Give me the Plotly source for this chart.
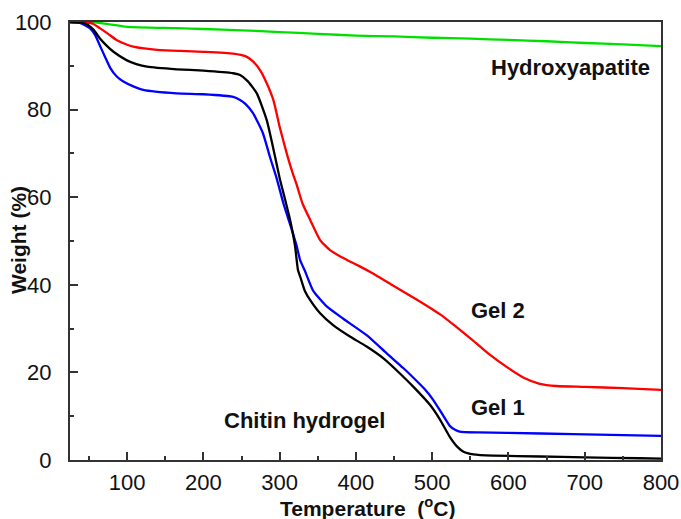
import plotly.graph_objects as go

# Hydroxyapatite (green)
hap_t = [25, 55, 75, 100, 165, 200, 250, 300, 350, 400, 450, 500, 550, 600, 650, 700, 750, 800]
hap_w = [100, 100, 99.5, 98.9, 98.6, 98.4, 98.1, 97.7, 97.3, 96.9, 96.7, 96.4, 96.2, 95.9, 95.6, 95.2, 94.9, 94.5]

# Gel 2 (red)
gel2_t = [25, 45, 55, 64, 75, 86, 100, 108, 125, 143, 170, 200, 239, 255, 265, 275, 283, 292, 300, 310,
          317, 322, 330, 340, 353, 366, 379, 390, 405, 420, 449, 480, 510, 530, 554, 575, 598, 620, 641,
          663, 700, 750, 800]
gel2_w = [100, 100, 99.6, 98.6, 97.3, 95.9, 94.8, 94.4, 93.9, 93.6, 93.4, 93.2, 92.8, 92.2, 91.0, 88.8,
          86.0, 82.0, 76.0, 69.5, 65.5, 63.0, 58.5, 54.8, 50.2, 47.9, 46.5, 45.5, 44.2, 42.8, 39.8, 36.6,
          33.3, 30.6, 27.2, 24.1, 21.2, 18.8, 17.4, 16.9, 16.7, 16.4, 16.0]

# Chitin hydrogel (black)
chitin_t = [25, 35, 47, 56, 64, 73, 82, 99, 112, 126, 165, 200, 239, 248, 258, 270, 283, 292, 300, 307,
            314, 320, 324, 327, 333, 340, 353, 370, 392, 414, 436, 458, 477, 497, 510, 523, 533, 541, 554,
            580, 641, 700, 772, 800]
chitin_w = [100, 99.9, 99.5, 98.2, 96.3, 94.6, 93.2, 91.3, 90.4, 89.8, 89.2, 88.9, 88.3, 87.9, 86.5, 83.7,
            77.6, 70.8, 64.3, 59.5, 54.5, 49.0, 43.3, 41.8, 38.6, 36.5, 33.5, 30.8, 28.2, 25.9, 23.2, 19.7,
            16.4, 12.6, 9.3, 5.3, 3.0, 1.9, 1.3, 1.0, 0.8, 0.6, 0.4, 0.3]

# Gel 1 (blue)
gel1_t = [25, 38, 51, 58, 64, 71, 77.5, 86, 95, 108, 121, 165, 200, 239, 248, 255, 265, 278, 287, 296,
          305, 316, 322, 327, 333, 344, 362, 383, 414, 440, 462, 477, 490, 501, 512, 523, 530, 536, 560,
          598, 685, 800]
gel1_w = [100, 99.8, 98.6, 97.0, 94.7, 92.0, 89.6, 87.6, 86.4, 85.3, 84.5, 83.7, 83.5, 82.9, 82.2, 81.3,
          79.2, 74.6, 69.3, 64.3, 58.5, 52.5, 49.0, 45.5, 43.2, 38.6, 35.0, 32.3, 28.5, 24.4, 21.0, 18.5,
          16.2, 13.8, 10.8, 7.8, 6.9, 6.5, 6.3, 6.2, 5.9, 5.5]

x_ticks = [100, 200, 300, 400, 500, 600, 700, 800]
y_ticks = [0, 20, 40, 60, 80, 100]

labels = [
    ("Hydroxyapatite", 570, 89.6),
    ("Gel 2", 498, 34.2),
    ("Gel 1", 498, 12.1),
    ("Chitin hydrogel", 304, 9.1),
]

FONT = "Liberation Sans, Arial, sans-serif"
W, H = 681, 519
ML, MR, MT, MB = 70, 20, 22, 59

fig = go.Figure()
for t, w, c in [(hap_t, hap_w, "#00e000"), (gel2_t, gel2_w, "#ff0000"),
                (gel1_t, gel1_w, "#0000ff"), (chitin_t, chitin_w, "#000000")]:
    fig.add_trace(go.Scatter(x=t, y=w, mode="lines",
                             line=dict(color=c, width=2.3, shape="spline", smoothing=0.5),
                             showlegend=False, hoverinfo="skip"))

for txt, px, yv in labels:
    x_val = 25 + (px - ML) / ((W - MR - ML) / 775)
    fig.add_annotation(x=x_val, y=yv, xref="x", yref="y", text="<b>%s</b>" % txt,
                       showarrow=False, font=dict(family=FONT, size=22, color="#111111"))

# axis titles
fig.add_annotation(x=(367 - ML) / (W - ML - MR), y=-(507 - (H - MB)) / (H - MT - MB),
                   xref="paper", yref="paper", xanchor="center", yanchor="middle",
                   text="<b>Temperature  (<sup>o</sup>C)</b>", showarrow=False,
                   font=dict(family=FONT, size=21, color="#111111"))
fig.add_annotation(x=-(ML - 19) / (W - ML - MR), y=1 - (240 - MT) / (H - MT - MB),
                   xref="paper", yref="paper", xanchor="center", yanchor="middle", textangle=-90,
                   text="<b>Weight (%)</b>", showarrow=False,
                   font=dict(family=FONT, size=21, color="#111111"))

axis_common = dict(
    showline=True, linecolor="#333333", linewidth=2, mirror=True,
    ticks="inside", ticklen=8, tickwidth=1.5, tickcolor="#333333",
    showgrid=False, zeroline=False, automargin=False,
    tickfont=dict(family=FONT, size=22, color="#111111"),
)

fig.update_xaxes(range=[25, 800], tickvals=x_ticks,
                 minor=dict(ticks="inside", ticklen=4, tickwidth=1.5, tickcolor="#333333", dtick=50, tick0=0),
                 ticklabelstandoff=2,
                 **axis_common)
fig.update_yaxes(range=[0, 100], tickvals=y_ticks,
                 minor=dict(ticks="inside", ticklen=4, tickwidth=1.5, tickcolor="#333333", dtick=10, tick0=0),
                 ticklabelstandoff=12,
                 **axis_common)

fig.update_layout(width=W, height=H, margin=dict(l=ML, r=MR, t=MT, b=MB),
                  plot_bgcolor="white", paper_bgcolor="white")
fig.write_html("out.html", config={"displayModeBar": False},
               post_script="document.body.style.margin='0';document.body.style.overflow='hidden';")
